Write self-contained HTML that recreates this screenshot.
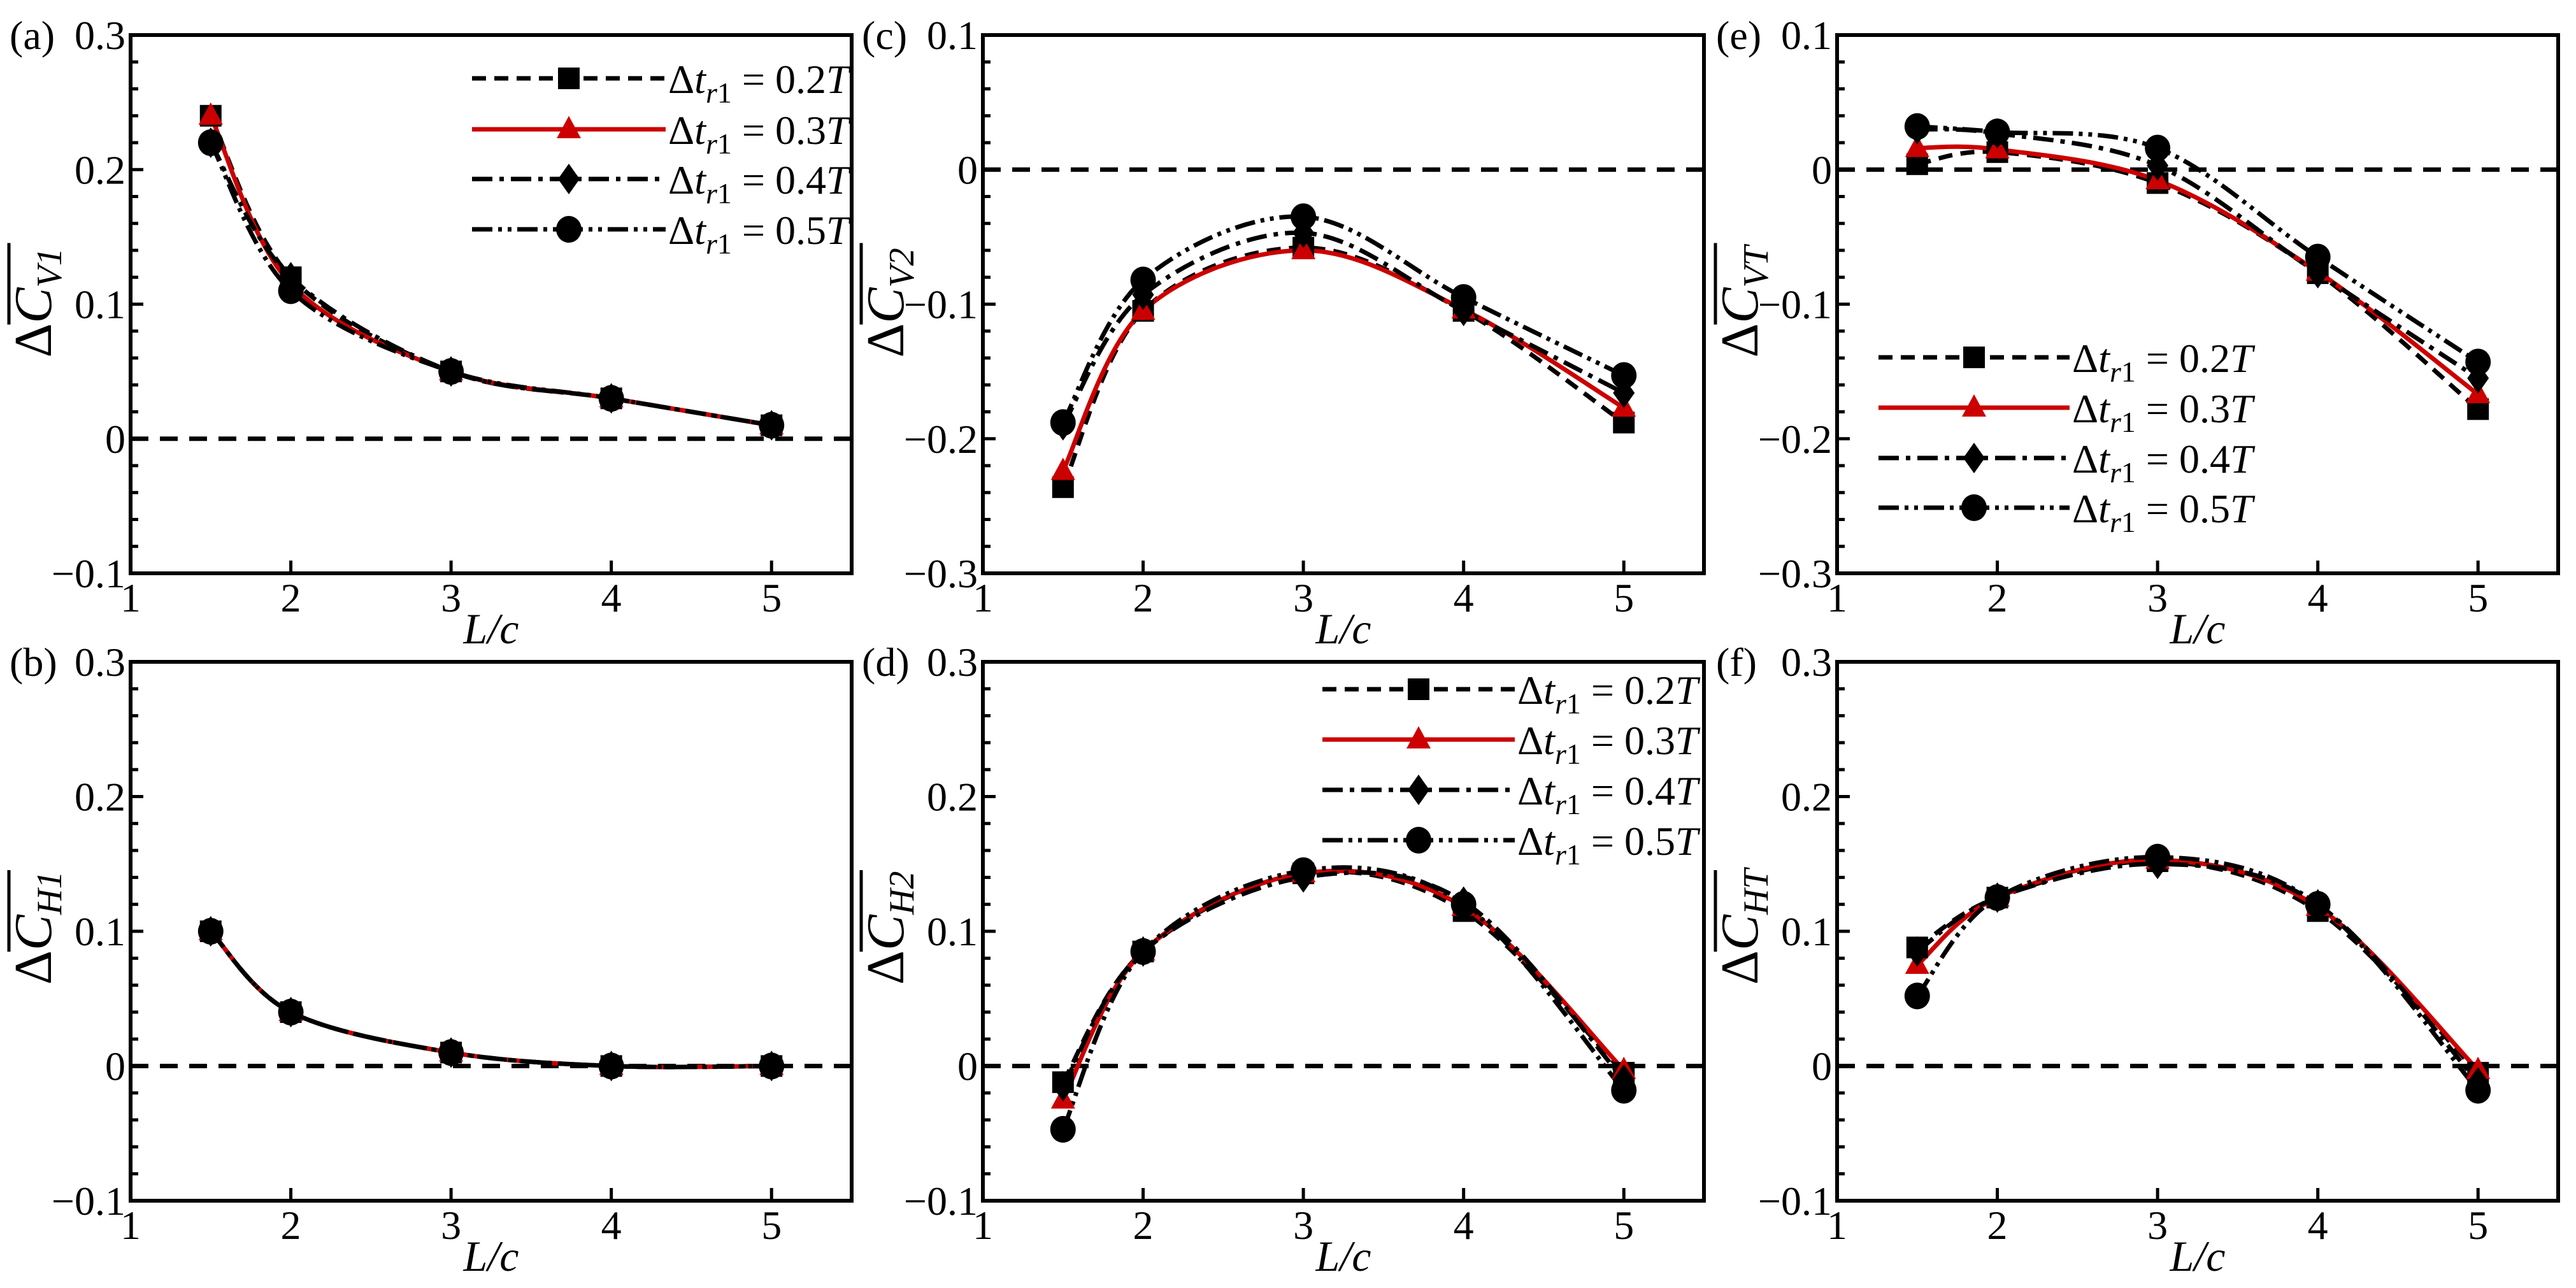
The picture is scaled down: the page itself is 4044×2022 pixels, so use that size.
<!DOCTYPE html>
<html><head><meta charset="utf-8">
<style>
html,body{margin:0;padding:0;background:#fff;}
svg{display:block;font-family:"Liberation Serif","DejaVu Serif",serif;}
</style></head>
<body>
<svg id="fig" width="4044" height="2022" viewBox="0 0 4044 2022" xmlns="http://www.w3.org/2000/svg"></svg>
<script>
const xVals = [1.5, 2, 3, 4, 5];
const seriesNames = ["0.2", "0.3", "0.4", "0.5"];
const xTicks = [1, 2, 3, 4, 5];
const yTicksA = [-0.1, 0, 0.1, 0.2, 0.3];
const yTicksC = [-0.3, -0.2, -0.1, 0, 0.1];
// (a) ΔC_V1
const a02 = [0.240, 0.120, 0.050, 0.030, 0.010];
const a03 = [0.240, 0.115, 0.050, 0.030, 0.010];
const a04 = [0.220, 0.120, 0.050, 0.030, 0.010];
const a05 = [0.220, 0.110, 0.050, 0.030, 0.010];
// (b) ΔC_H1
const b02 = [0.100, 0.040, 0.010, 0.000, 0.000];
const b03 = [0.100, 0.040, 0.010, 0.000, 0.000];
const b04 = [0.100, 0.040, 0.010, 0.000, 0.000];
const b05 = [0.100, 0.040, 0.010, 0.000, 0.000];
// (c) ΔC_V2
const c02 = [-0.236, -0.105, -0.058, -0.105, -0.188];
const c03 = [-0.224, -0.105, -0.060, -0.104, -0.177];
const c04 = [-0.190, -0.093, -0.047, -0.105, -0.166];
const c05 = [-0.188, -0.082, -0.035, -0.095, -0.153];
// (d) ΔC_H2
const d02 = [-0.012, 0.085, 0.143, 0.115, -0.005];
const d03 = [-0.025, 0.085, 0.143, 0.118, -0.003];
const d04 = [-0.015, 0.085, 0.140, 0.122, -0.010];
const d05 = [-0.047, 0.085, 0.145, 0.120, -0.018];
// (e) ΔC_VT
const e02 = [0.004, 0.013, -0.010, -0.077, -0.178];
const e03 = [0.016, 0.015, -0.008, -0.076, -0.167];
const e04 = [0.030, 0.027, 0.003, -0.077, -0.155];
const e05 = [0.032, 0.028, 0.016, -0.065, -0.143];
// (f) ΔC_HT
const f02 = [0.088, 0.125, 0.152, 0.115, -0.005];
const f03 = [0.075, 0.125, 0.153, 0.118, -0.003];
const f04 = [0.085, 0.125, 0.150, 0.120, -0.012];
const f05 = [0.052, 0.125, 0.155, 0.120, -0.018];

const NS = "http://www.w3.org/2000/svg";
const svg = document.getElementById('fig');
function mk(tag, attrs, parent){
  const e = document.createElementNS(NS, tag);
  for (const k in attrs) e.setAttribute(k, attrs[k]);
  (parent || svg).appendChild(e);
  return e;
}
const W = 1132;
const LW = 7;
const styles = [
  {stroke:"#000", dash:"22 13", marker:"square"},
  {stroke:"#cc0000", dash:"", marker:"triangle"},
  {stroke:"#000", dash:"32 11 7 11", marker:"diamond"},
  {stroke:"#000", dash:"32 9 6 9 6 9", marker:"circle"}
];
function drawMarker(g, type, cx, cy, color){
  let m;
  if (type === "square") m = mk('rect', {x:cx-17, y:cy-17, width:34, height:34, fill:color}, g);
  else if (type === "triangle") m = mk('polygon', {points:`${cx},${cy-21} ${cx+19},${cy+14} ${cx-19},${cy+14}`, fill:color}, g);
  else if (type === "diamond") m = mk('polygon', {points:`${cx},${cy-24} ${cx+17},${cy} ${cx},${cy+24} ${cx-17},${cy}`, fill:color}, g);
  else m = mk('ellipse', {cx:cx, cy:cy, rx:20, ry:21, fill:color}, g);
  
  
}
function splinePath(pts){
  let d = `M${pts[0][0]},${pts[0][1]}`;
  for (let i = 0; i < pts.length - 1; i++){
    const p0 = pts[i-1] || pts[i], p1 = pts[i], p2 = pts[i+1], p3 = pts[i+2] || pts[i+1];
    const c1x = p1[0] + (p2[0]-p0[0])/6, c1y = p1[1] + (p2[1]-p0[1])/6;
    const c2x = p2[0] - (p3[0]-p1[0])/6, c2y = p2[1] - (p3[1]-p1[1])/6;
    d += ` C${c1x},${c1y} ${c2x},${c2y} ${p2[0]},${p2[1]}`;
  }
  return d;
}
function fmt(v){ if (v === 0) return "0"; return (v < 0 ? "\u2212" : "") + Math.abs(v).toFixed(1); }

const panels = [
  {id:"a", left:205, top:55, h:845, yt:yTicksA, sub:"V1", data:[a02,a03,a04,a05], legend:{x1:741,x2:1045,ys:[123,203,281,360]}},
  {id:"b", left:205, top:1039, h:846, yt:yTicksA, sub:"H1", data:[b02,b03,b04,b05]},
  {id:"c", left:1543, top:55, h:845, yt:yTicksC, sub:"V2", data:[c02,c03,c04,c05]},
  {id:"d", left:1543, top:1039, h:846, yt:yTicksA, sub:"H2", data:[d02,d03,d04,d05], legend:{x1:2076,x2:2378,ys:[1082,1161,1240,1319]}},
  {id:"e", left:2884, top:55, h:845, yt:yTicksC, sub:"VT", data:[e02,e03,e04,e05], legend:{x1:2949,x2:3249,ys:[561,640,719,797]}},
  {id:"f", left:2884, top:1039, h:846, yt:yTicksA, sub:"HT", data:[f02,f03,f04,f05]}
];

panels.forEach(p => {
  const g = mk('g', {});
  
  
  const ymin = p.yt[0], ymax = p.yt[p.yt.length-1];
  const X = v => p.left + (v - 1) / 4.5 * W;
  const Y = v => p.top + (ymax - v) / (ymax - ymin) * p.h;
  const bottom = p.top + p.h, right = p.left + W;

  const z = mk('line', {x1:p.left, x2:right, y1:Y(0), y2:Y(0), stroke:"#000", "stroke-width":LW, "stroke-dasharray":"28 18"}, g);
  
  

  p.data.forEach((arr, si) => {
    const st = styles[si];
    const pts = xVals.map((x, i) => [X(x), Y(arr[i])]);
    const path = mk('path', {d:splinePath(pts), fill:"none", stroke:st.stroke, "stroke-width":LW, "stroke-dasharray":st.dash}, g);
    
    
  });
  p.data.forEach((arr, si) => {
    const st = styles[si];
    xVals.forEach((x, i) => drawMarker(g, st.marker, X(x), Y(arr[i]), st.stroke));
  });

  const fr = mk('rect', {x:p.left, y:p.top, width:W, height:p.h, fill:"none", stroke:"#000", "stroke-width":6}, g);
  
  

  for (let k = 0; k <= 20; k++){
    const v = ymin + k * 0.02;
    const major = k % 5 === 0;
    const t = mk('line', {x1:p.left, x2:p.left + (major ? 20 : 12), y1:Y(v), y2:Y(v), stroke:"#000", "stroke-width":5}, g);
    
    
  }
  p.yt.forEach(v => {
    const t = mk('text', {x:p.left - 8, y:Y(v) + 22, "text-anchor":"end", "font-size":64}, g);
    t.textContent = fmt(v);
    
    
  });
  xTicks.forEach(v => {
    const t = mk('line', {x1:X(v), x2:X(v), y1:bottom, y2:bottom - 20, stroke:"#000", "stroke-width":5}, g);
    
    
    const l = mk('text', {x:X(v), y:bottom + 60, "text-anchor":"middle", "font-size":64}, g);
    l.textContent = String(v);
    
    
  });
  const xt = mk('text', {x:p.left + W/2, y:bottom + 110, "text-anchor":"middle", "font-size":68, "font-style":"italic"}, g);
  xt.textContent = "L/c";
  
  
  const pl = mk('text', {x:p.left - 190, y:p.top + 22, "font-size":64}, g);
  pl.textContent = "(" + p.id + ")";
  
  

  const cx = p.left - 125, cy = p.top + p.h/2;
  const yg = mk('g', {transform:`translate(${cx},${cy}) rotate(-90)`}, g);
  
  
  const yt = mk('text', {x:-84, y:0, "font-size":84}, yg);
  const t1 = mk('tspan', {}, yt); t1.textContent = "\u0394";
  const t2 = mk('tspan', {"font-style":"italic"}, yt); t2.textContent = "C";
  const t3 = mk('tspan', {"font-style":"italic", "font-size":56, dy:16}, yt); t3.textContent = p.sub;
  mk('line', {x1:-32, x2:96, y1:-66, y2:-66, stroke:"#000", "stroke-width":5}, yg);

  if (p.legend){
    const lg = mk('g', {}, g);
    
    
    const L = p.legend;
    styles.forEach((st, si) => {
      const y = L.ys[si];
      const e = mk('g', {}, lg);
      
      
      mk('line', {x1:L.x1, x2:L.x2, y1:y, y2:y, stroke:st.stroke, "stroke-width":LW, "stroke-dasharray":st.dash}, e);
      drawMarker(e, st.marker, (L.x1 + L.x2)/2, y, st.stroke);
      const tx = mk('text', {x:L.x2 + 4, y:y + 23, "font-size":64}, e);
      const s1 = mk('tspan', {}, tx); s1.textContent = "\u0394";
      const s2 = mk('tspan', {"font-style":"italic"}, tx); s2.textContent = "t";
      const s3 = mk('tspan', {"font-size":46, dy:15}, tx);
      const s3a = mk('tspan', {"font-style":"italic"}, s3); s3a.textContent = "r";
      const s3b = mk('tspan', {}, s3); s3b.textContent = "1";
      const s4 = mk('tspan', {dy:-15}, tx); s4.textContent = " = " + seriesNames[si];
      const s5 = mk('tspan', {"font-style":"italic"}, tx); s5.textContent = "T";
    });
  }
});
</script>
</body></html>
